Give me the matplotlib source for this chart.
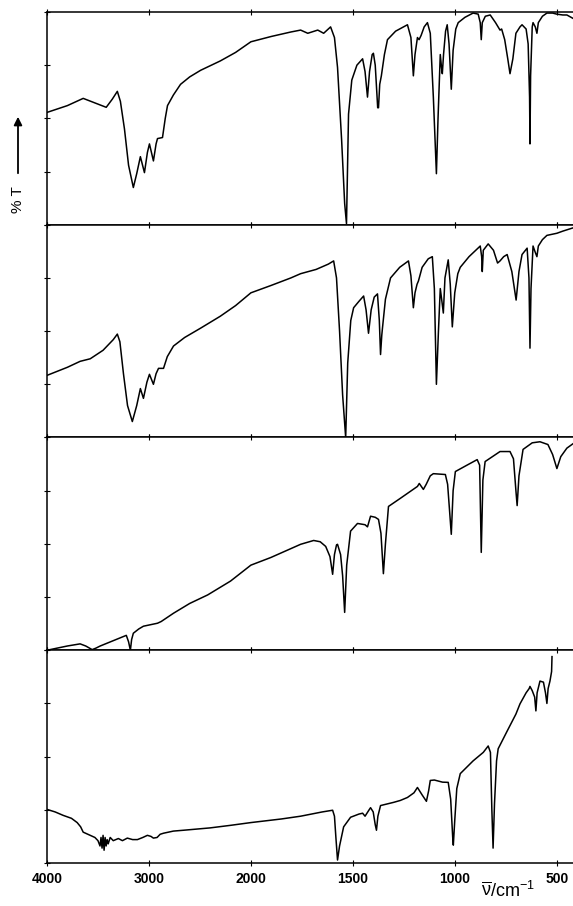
import numpy as np
import matplotlib
matplotlib.use("Agg")
import matplotlib.pyplot as plt

plt.rcParams['font.family'] = ['Liberation Sans', 'DejaVu Sans']
plt.rcParams['mathtext.fontset'] = 'custom'
plt.rcParams['mathtext.rm'] = 'Liberation Sans'
plt.rcParams['mathtext.it'] = 'Liberation Sans'

# --- espectros (numero de onda en cm-1, %T) ---
wn1 = [4000, 3800, 3645, 3419, 3360, 3310, 3280, 3240, 3200, 3153, 3120, 3084, 3044, 3015,
       2995, 2956, 2930, 2916, 2867, 2840, 2818, 2760, 2690, 2600, 2493, 2300, 2150, 2000,
       1900, 1804, 1756, 1721, 1672, 1643, 1609, 1590, 1575, 1555, 1540, 1531, 1521, 1505,
       1480, 1452, 1440, 1428, 1418, 1405, 1399, 1390, 1378, 1374, 1368, 1360, 1345, 1330,
       1290, 1232, 1215, 1203, 1195, 1183, 1175, 1165, 1150, 1134, 1120, 1105, 1090, 1082,
       1071, 1065, 1061, 1055, 1045, 1037, 1028, 1017, 1008, 995, 983, 950, 910, 885, 875,
       870, 865, 850, 826, 800, 778, 770, 755, 740, 729, 715, 700, 680, 670, 650, 640, 633,
       631, 628, 620, 616, 605, 597, 590, 570, 548, 520, 500, 470, 450, 420]
t1 = [52.8, 56, 59.4, 55.2, 59, 62.7, 58, 45, 28, 17.5, 24, 32, 24.5, 34,
      38, 30, 38, 40.5, 41, 50, 56, 61, 66, 69.5, 72.6, 77, 81, 86,
      88.5, 90.6, 91.5, 90, 91.5, 90, 93, 88, 74, 40, 10, 0.5, 52, 68,
      75, 78, 72, 60, 72, 80, 80.6, 75, 55, 55, 66, 70, 80, 87,
      91, 94, 88, 70, 80, 88, 87, 89, 93, 95, 90, 60, 24, 50,
      80, 74, 71, 80, 91, 94, 85, 63.7, 82, 92, 95, 97.5, 99.5, 99, 95,
      87, 95, 98, 98.6, 95, 91.5, 92, 87, 78, 71, 78, 90, 93, 94, 92, 85, 60,
      38, 70, 93, 95, 93, 90, 95, 98, 99.5, 99.5, 99, 98.6, 98.6, 97]

wn2 = [4000, 3800, 3675, 3576, 3450, 3350, 3310, 3285, 3250, 3210, 3163, 3120, 3084, 3054,
       3020, 2995, 2956, 2930, 2906, 2857, 2820, 2759, 2650, 2493, 2300, 2150, 2000, 1900,
       1804, 1756, 1680, 1620, 1594, 1580, 1565, 1550, 1535, 1525, 1510, 1496, 1470, 1447,
       1435, 1423, 1410, 1395, 1379, 1370, 1364, 1358, 1355, 1340, 1315, 1270, 1227, 1215,
       1203, 1195, 1185, 1178, 1160, 1130, 1110, 1100, 1090, 1080, 1071, 1063, 1056, 1048,
       1032, 1022, 1012, 1000, 985, 973, 930, 875, 868, 865, 860, 836, 810, 790, 778, 760,
       743, 720, 699, 685, 670, 645, 636, 631, 626, 616, 605, 597, 590, 570, 548, 499, 470, 421]
t2 = [29.2, 33, 35.8, 37, 41, 46, 48.6, 45, 30, 15, 7.5, 15, 23, 18.4,
      26, 29.7, 25, 30, 32.5, 32.5, 38, 43, 47, 51.4, 57, 62, 68, 71.5,
      75, 77, 79, 81.5, 83, 75, 50, 20, 0, 35, 55, 61, 64, 66.5,
      60, 49, 60, 66, 67.5, 55, 39, 48, 51, 65, 75, 80, 83, 76,
      61, 68, 72, 73.6, 80, 84, 85, 70, 25, 50, 70, 64, 58.5, 75,
      83.5, 72, 52, 68, 77, 80, 85, 90, 85, 78, 88, 91, 88, 82, 83, 85,
      86, 78, 64.6, 78, 86, 89, 75, 42, 70, 90, 87, 85, 90, 93, 95, 96, 97, 98.5]

wn3 = [4000, 3800, 3675, 3620, 3557, 3520, 3478, 3350, 3222, 3200, 3182, 3170, 3153, 3100,
       3054, 2916, 2880, 2759, 2600, 2424, 2200, 2000, 1902, 1756, 1692, 1660, 1633, 1612,
       1599, 1590, 1580, 1575, 1560, 1550, 1540, 1530, 1511, 1477, 1440, 1428, 1413, 1390,
       1374, 1362, 1350, 1340, 1325, 1267, 1183, 1174, 1154, 1140, 1120, 1105, 1046, 1035,
       1025, 1017, 1008, 997, 940, 890, 878, 870, 862, 851, 778, 729, 712, 700, 694, 685,
       665, 620, 582, 543, 520, 499, 480, 450, 421]
t3 = [0, 2, 3, 2, 0.3, 1, 2, 4.5, 7, 4, 0, 5, 8, 10,
      11.3, 12.7, 13.5, 17.4, 22, 26, 32.5, 40, 43.6, 49.8, 51.6, 51, 48.8, 44,
      35.7, 45, 49.5, 49.8, 45, 35, 17.8, 40, 56, 59.6, 59, 58, 63, 62.5,
      61.5, 55, 36, 50, 67.6, 71.4, 77, 78.4, 75.6, 78, 82, 83, 82.6, 78,
      65, 54.5, 75, 84, 87, 89.6, 87, 46, 80, 88.7, 93.4, 93.4, 90, 75, 68, 82,
      94.4, 97.5, 98, 96.7, 92, 85.4, 91, 95, 97]

wn4 = [4000, 3920, 3842, 3760, 3704, 3670, 3645, 3576, 3530, 3500, 3480, 3470, 3460, 3450,
       3440, 3430, 3420, 3410, 3400, 3380, 3350, 3300, 3260, 3212, 3160, 3113, 3060, 3015,
       2980, 2956, 2920, 2890, 2857, 2760, 2660, 2400, 2200, 2000, 1850, 1756, 1650, 1599,
       1590, 1583, 1575, 1565, 1545, 1511, 1470, 1452, 1440, 1420, 1413, 1400, 1390, 1384,
       1377, 1364, 1300, 1267, 1232, 1200, 1183, 1160, 1139, 1128, 1120, 1100, 1060, 1032,
       1020, 1010, 1007, 1000, 990, 973, 910, 860, 836, 825, 818, 812, 805, 795, 787, 743,
       700, 680, 650, 635, 631, 620, 608, 602, 596, 582, 565, 555, 548, 542, 533, 525, 523]
t4 = [25.2, 24, 22.4, 21, 19, 17, 14.5, 13, 12, 10.5, 8, 12, 7, 13,
      6, 12, 8, 11, 9, 12, 10.5, 11.5, 10.5, 11.7, 11, 11, 12, 13,
      12.5, 11.7, 12, 13.5, 14, 15, 15.4, 16.5, 17.7, 19, 20.7, 22, 24, 24.8,
      22, 12, 1.4, 8, 17, 21.5, 23, 23.4, 22, 25, 26, 24, 18, 15.4,
      22, 27, 28.5, 29.4, 30.8, 33, 35.5, 32, 29, 34, 38.8, 39, 38, 37.9,
      30, 12, 8.4, 20, 35, 42, 48, 52, 55, 52, 25, 7, 28, 48, 53.7, 62,
      70, 74.8, 80, 82, 83, 81, 78, 71.5, 80, 85.5, 85, 80, 75, 82, 85.5, 90, 97]

espectros = [(wn1, t1), (wn2, t2), (wn3, t3), (wn4, t4)]
xticks = [4000, 3000, 2000, 1500, 1000, 500]
yticks = [0, 25, 50, 75, 100]


# escala del eje x: por encima de 2000 cm-1 la mitad de ancho
def forward(x):
    x = np.asarray(x, dtype=float)
    return np.where(x > 2000, 2000 + (x - 2000) / 2, x)


def inverse(u):
    u = np.asarray(u, dtype=float)
    return np.where(u > 2000, 2000 + (u - 2000) * 2, u)


fig = plt.figure(figsize=(5.73, 9.06), dpi=100)
left, right = 47 / 573, 1.0
top, bottom = 1 - 12 / 906, 1 - 863 / 906
h = (top - bottom) / 4

for i, (wn, t) in enumerate(espectros):
    ax = fig.add_axes([left, top - (i + 1) * h, right - left, h])
    ax.set_xscale('function', functions=(forward, inverse))
    ax.plot(wn, t, color='black', lw=1.1)
    ax.set_xlim(4000, 420)
    ax.set_ylim(0, 100)
    ax.set_xticks(xticks)
    ax.set_yticks(yticks)
    ax.minorticks_off()
    ax.tick_params(axis='both', direction='inout', length=5, width=0.8,
                   top=True, bottom=True, left=True, right=False,
                   labelleft=False, labelbottom=(i == 3))
    ax.tick_params(axis='x', labelsize=10, pad=4)
    for lab in ax.get_xticklabels():
        lab.set_fontweight('bold')
    ax.spines['right'].set_visible(False)
    for s in ['top', 'bottom', 'left']:
        ax.spines[s].set_linewidth(1.1)

fig.text(508 / 573, 1 - 891 / 906, r'$\overline{\nu}$/cm$^{-1}$', fontsize=13,
         ha='center', va='center')

fig.text(18 / 573, 1 - 200 / 906, '% T', rotation=90, fontsize=11,
         ha='center', va='center')
fig.patches.append(plt.matplotlib.patches.FancyArrowPatch(
    (18 / 573, 1 - 176 / 906), (18 / 573, 1 - 114 / 906),
    transform=fig.transFigure, arrowstyle='-|>', mutation_scale=12,
    color='black', lw=1.3))

fig.savefig('out.png', dpi=100)
